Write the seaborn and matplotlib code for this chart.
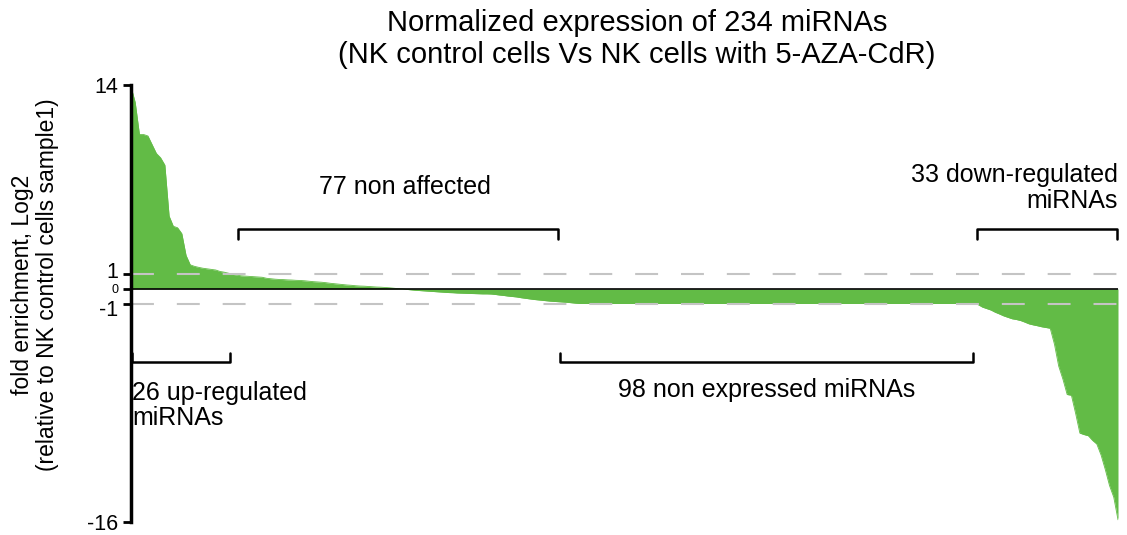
import matplotlib
matplotlib.use('Agg')
import matplotlib.pyplot as plt
import matplotlib.transforms as mtransforms
import numpy as np
import seaborn as sns
import pandas as pd

sns.set_theme(style='white')
plt.rcParams['font.family'] = ['Liberation Sans', 'DejaVu Sans']
plt.rcParams['text.color'] = 'black'

# sorted log2 fold enrichment
up_regulated = [13.9, 12.8, 10.6, 10.6, 10.5, 9.9, 9.3, 9.0, 8.5, 5.0, 4.3, 4.2, 3.8,
                2.3, 1.65, 1.55, 1.48, 1.42, 1.38, 1.34, 1.30, 1.20, 1.15, 1.08, 1.00, 0.95]
non_affected = [0.90, 0.88, 0.86, 0.84, 0.82, 0.80, 0.73, 0.70, 0.67, 0.65, 0.64, 0.62,
                0.61, 0.59, 0.58, 0.56, 0.53, 0.50, 0.48, 0.46, 0.43, 0.39, 0.36, 0.33,
                0.30, 0.27, 0.25, 0.22, 0.20, 0.19, 0.17, 0.15, 0.13, 0.12, 0.10, 0.08,
                0.05, 0.02, 0.00, -0.03, -0.06, -0.09, -0.11, -0.13, -0.15, -0.17, -0.19,
                -0.21, -0.23, -0.25, -0.26, -0.28, -0.29, -0.30, -0.31, -0.32, -0.33,
                -0.34, -0.34, -0.35, -0.38, -0.42, -0.45, -0.49, -0.52, -0.55, -0.60,
                -0.64, -0.68, -0.72, -0.75, -0.78, -0.81, -0.84, -0.86, -0.88, -0.90]
non_expressed = [-0.92, -0.95, -0.98,
                 -1.0, -1.0, -1.0, -1.0, -1.0, -1.0, -1.0, -1.0, -1.0, -1.0, -1.0, -1.0,
                 -1.0, -1.0, -1.0, -1.0, -1.0, -1.0, -1.0, -1.0, -1.0, -1.0, -1.0, -1.0,
                 -1.0, -1.0, -1.0, -1.0, -1.0, -1.0, -1.0, -1.0, -1.0, -1.0, -1.0, -1.0,
                 -1.0, -1.0, -1.0, -1.0, -1.0, -1.0, -1.0, -1.0, -1.0, -1.0, -1.0, -1.0,
                 -1.0, -1.0, -1.0, -1.0, -1.0, -1.0, -1.0, -1.0, -1.0, -1.0, -1.0, -1.0,
                 -1.0, -1.0, -1.0, -1.0, -1.0, -1.0, -1.0, -1.0, -1.0, -1.0, -1.0, -1.0,
                 -1.0, -1.0, -1.0, -1.0, -1.0, -1.0, -1.0, -1.0, -1.0, -1.0, -1.0, -1.0,
                 -1.0, -1.0, -1.0, -1.0, -1.0, -1.0, -1.0, -1.0, -1.0,
                 -1.03, -1.08]
down_regulated = [-1.25, -1.35, -1.45, -1.6, -1.72, -1.85, -1.95, -2.05, -2.1, -2.17,
                  -2.28, -2.4, -2.47, -2.53, -2.6, -2.65, -2.7, -3.8, -5.3, -6.2, -7.25,
                  -7.3, -8.55, -9.9, -10.0, -10.08, -10.4, -10.65, -11.4, -12.4, -13.5,
                  -14.3, -15.85]

values = up_regulated + non_affected + non_expressed + down_regulated
df = pd.DataFrame({'mirna': np.arange(len(values)), 'log2': values})

yticks = [14, 1, 0, -1, -16]
green = '#62bb46'

fig = plt.figure(figsize=(11.27, 5.35), dpi=100)
ax = fig.add_axes([131/1127, 13/535, 987/1127, 437/535])

ax.fill_between(df['mirna'], df['log2'], 0, color=green, lw=0, zorder=1)
sns.lineplot(data=df, x='mirna', y='log2', color=green, linewidth=0.6, ax=ax, zorder=1)
for v in (1, -1):
    ax.axhline(v, color='#c4c4c4', lw=1.5, ls=(0, (11, 11)), zorder=2)
ax.axhline(0, color='black', lw=1.2, zorder=3)

ax.set_xlim(0, len(values) - 1)
ax.set_ylim(-16, 14)
ax.set_xticks([])
ax.set_yticks(yticks)
ax.set_yticklabels([str(t) for t in yticks])
ax.tick_params(axis='y', left=True, length=6, width=2, color='black', pad=3,
               labelcolor='black')
# small nudges so the close 1 / 0 / -1 labels do not collide
shifts = {'1': 4, '0': 0, '-1': -4}
for lab in ax.get_yticklabels():
    t = lab.get_text()
    lab.set_fontsize(9 if t == '0' else 15.5)
    if t in shifts:
        lab.set_transform(lab.get_transform() +
                          mtransforms.ScaledTranslation(0, shifts[t] / 100, fig.dpi_scale_trans))
ax.set_xlabel('')
ax.set_ylabel('')
for s in ('top', 'right', 'bottom'):
    ax.spines[s].set_visible(False)
ax.spines['left'].set_color('black')
ax.spines['left'].set_linewidth(2.5)

# brackets
def bracket(x0, x1, y, tick):
    ax.plot([x0, x0, x1, x1], [y + tick, y, y, y + tick], color='black', lw=1.8,
            clip_on=False, zorder=4)

bracket(25.2, 100.8, 4.1, -0.7)
bracket(199.7, 232.8, 4.1, -0.7)
bracket(0.3, 23.3, -5.0, 0.6)
bracket(101.3, 198.8, -5.0, 0.6)

fs = 18
ax.text(64.7, 7.0, '77 non affected', ha='center', va='center', fontsize=fs)
ax.text(232.9, 6.95, '33 down-regulated\nmiRNAs', ha='right', va='center',
        multialignment='right', fontsize=fs, linespacing=1.1)
ax.text(0.3, -8.0, '26 up-regulated\nmiRNAs', ha='left', va='center',
        multialignment='left', fontsize=fs, linespacing=1.1)
ax.text(150.1, -6.95, '98 non expressed miRNAs', ha='center', va='center', fontsize=fs)

fig.text(637/1127, 1 - 39/535, 'Normalized expression of 234 miRNAs\n(NK control cells Vs NK cells with 5-AZA-CdR)',
         ha='center', va='center', multialignment='center', fontsize=21, linespacing=1.2)
fig.text(35/1127, 1 - 285/535, 'fold enrichment, Log2\n(relative to NK control cells sample1)',
         ha='center', va='center', rotation=90, multialignment='center', fontsize=16.5,
         linespacing=1.15)

fig.savefig('out.png', dpi=100)
